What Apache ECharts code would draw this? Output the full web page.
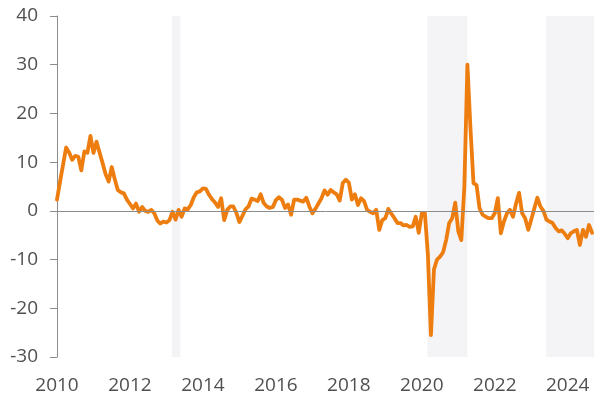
<!DOCTYPE html>
<html><head><meta charset="utf-8">
<script src="https://cdn.jsdelivr.net/npm/echarts@6/dist/echarts.min.js"></script>
<style>html,body{margin:0;padding:0;background:#fff}#c{width:614px;height:402px}</style>
</head><body><div id="c"></div>
<script>
// Monthly values, Jan 2010 onward
const startYear = 2010;
const values = [
  2.3, 6.0, 9.5, 13.0, 12.0, 10.5, 11.3, 11.1, 8.3, 12.2, 11.9, 15.4,
  11.9, 14.2, 12.0, 9.8, 7.5, 6.0, 9.0, 6.5, 4.3, 3.8, 3.6, 2.3,
  1.4, 0.5, 1.5, -0.2, 0.8, 0.0, -0.2, 0.2, -0.5, -2.0, -2.6, -2.2,
  -2.4, -1.9, -0.2, -1.8, 0.2, -1.2, 0.5, 0.3, 1.2, 2.8, 3.8, 4.0,
  4.6, 4.5, 3.3, 2.4, 1.7, 0.8, 2.6, -1.9, 0.2, 0.9, 0.9, -0.4,
  -2.3, -1.0, 0.3, 0.9, 2.5, 2.3, 2.0, 3.4, 1.6, 0.9, 0.6, 0.8,
  2.2, 2.8, 2.3, 0.6, 1.3, -0.8, 2.3, 2.3, 2.1, 1.9, 2.7, 0.9,
  -0.5, 0.4, 1.5, 2.6, 4.2, 3.3, 4.3, 3.8, 3.4, 2.1, 5.7, 6.4,
  5.8, 2.3, 3.4, 1.2, 2.6, 2.0, 0.2, -0.2, -0.5, 0.2, -3.9, -1.9,
  -1.5, 0.4, -0.6, -1.5, -2.5, -2.5, -3.0, -2.9, -3.3, -3.2, -1.2, -4.5,
  -0.5, -0.4, -9.0, -25.5, -12.0, -10.0, -9.4, -8.5, -6.0, -2.5, -1.5, 1.7,
  -4.2, -6.0, 5.0, 30.0, 17.0, 5.7, 5.3, 0.5, -0.8, -1.2, -1.5, -1.5,
  -0.5, 2.6, -4.6, -2.2, -0.5, 0.2, -1.2, 1.5, 3.7, -0.5, -1.5, -3.9,
  -1.8, 0.5, 2.7, 0.9, 0.0, -1.8, -2.2, -2.5, -3.5, -4.2, -4.0, -4.7,
  -5.6, -4.6, -4.2, -3.9, -7.0, -3.9, -5.3, -2.9, -4.5
];
// Shaded periods [from, to] in fractional years
const shadedPeriods = [[2013.15, 2013.38], [2020.15, 2021.25], [2023.41, 2024.72]];
const xTickYears = [2010, 2012, 2014, 2016, 2018, 2020, 2022, 2024];
const yTicks = [-30, -20, -10, 0, 10, 20, 30, 40];

const seriesData = values.map((v, i) => [startYear + i / 12, v]);
const labelFont = { fontFamily: 'Open Sans', fontSize: 19, color: '#505050' };

const chart = echarts.init(document.getElementById('c'), null, { renderer: 'canvas' });
chart.setOption({
  animation: false,
  backgroundColor: '#ffffff',
  grid: { left: 57, right: 20, top: 16, bottom: 45, containLabel: false },
  xAxis: {
    type: 'value',
    min: xTickYears[0],
    max: 2024.72,
    interval: 2,
    axisLine: { show: false },
    axisTick: { show: false },
    splitLine: { show: false },
    axisLabel: Object.assign({ margin: 19, formatter: v => xTickYears.includes(v) ? String(v) : '' }, labelFont)
  },
  yAxis: {
    type: 'value',
    min: yTicks[0],
    max: yTicks[yTicks.length - 1],
    interval: 10,
    axisLine: { show: true, lineStyle: { color: '#8c8c8c', width: 1 } },
    axisTick: { show: true, length: 7, lineStyle: { color: '#8c8c8c', width: 1 } },
    splitLine: { show: false },
    axisLabel: Object.assign({ margin: 19 }, labelFont)
  },
  series: [
    {
      type: 'line',
      data: seriesData,
      symbol: 'none',
      silent: true,
      lineStyle: { opacity: 0 },
      z: 1,
      markArea: {
        silent: true,
        itemStyle: { color: '#f4f4f7' },
        data: shadedPeriods.map(p => [{ xAxis: p[0] }, { xAxis: p[1] }])
      },
      markLine: {
        silent: true,
        symbol: 'none',
        label: { show: false },
        lineStyle: { color: '#8c8c8c', width: 1, type: 'solid' },
        data: [{ yAxis: 0 }]
      }
    },
    {
      type: 'line',
      data: seriesData,
      symbol: 'none',
      z: 3,
      lineStyle: { color: '#ee7d10', width: 3.8, join: 'round', cap: 'round' }
    }
  ]
});
</script>
</body></html>
